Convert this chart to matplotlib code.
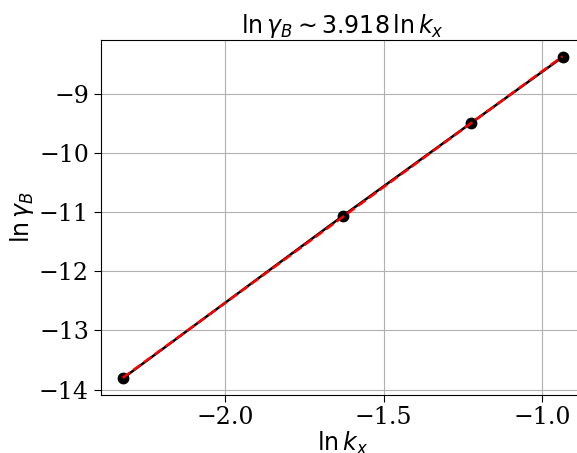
import numpy as np
import matplotlib
matplotlib.use("Agg")
import matplotlib.pyplot as plt

ln_kx = [-2.323, -1.628, -1.224, -0.936]
ln_gamma = [-13.81, -11.062, -9.495, -8.384]
xticks = [-2.0, -1.5, -1.0]
yticks = [-14, -13, -12, -11, -10, -9]

slope, intercept = np.polyfit(ln_kx, ln_gamma, 1)

fig = plt.figure(figsize=(5.77, 4.53), dpi=100)
ax = fig.add_axes([0.1745, 0.129, 0.8385, 0.782])
ax.plot(ln_kx, ln_gamma, 'ko-', markersize=7.5, linewidth=1.8)
xf = np.array(ln_kx)
ax.plot(xf, slope * xf + intercept, 'r--', linewidth=1.8)
ax.grid(True)
ax.set_xticks(xticks)
ax.set_yticks(yticks)
ax.tick_params(length=5)
for lab in ax.get_xticklabels() + ax.get_yticklabels():
    lab.set_family('DejaVu Serif')
    lab.set_fontsize(17)
ax.set_xlabel(r'$\ln k_x$', fontsize=17, labelpad=0)
ax.set_ylabel(r'$\ln \gamma_B$', fontsize=17, labelpad=2)
ax.set_title(r'$\ln \gamma_B \sim 3.918 \, \ln k_x$', fontsize=17, pad=4)
fig.savefig('out.png', dpi=100)
